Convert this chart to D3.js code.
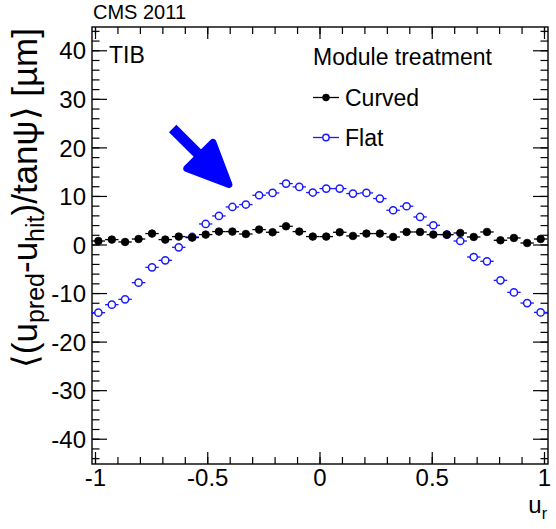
<!DOCTYPE html>
<html><head><meta charset="utf-8">
<script src="https://cdn.jsdelivr.net/npm/d3@7"></script>
<style>
body{margin:0;background:#fff}
svg{display:block}
text{font-family:"Liberation Sans",Arial,Helvetica,sans-serif;fill:#000}
</style>
</head><body>
<svg id="c" width="556" height="529"></svg>
<script>
// ---- data ----
const uR = [-0.985,-0.925,-0.866,-0.806,-0.746,-0.687,-0.627,-0.567,-0.507,-0.448,-0.388,-0.328,
  -0.269,-0.209,-0.149,-0.090,-0.030,0.030,0.090,0.149,0.209,0.269,0.328,0.388,0.448,0.507,
  0.567,0.627,0.687,0.746,0.806,0.866,0.925,0.985];
const curved = [0.72,1.01,0.52,1.13,2.25,1.01,1.63,1.42,2.04,2.66,2.66,2.16,
  3.07,2.52,3.75,2.66,1.63,1.63,2.52,1.76,2.25,2.25,1.55,
  2.58,2.58,2.04,2.04,2.37,1.55,2.58,0.87,1.35,0.31,1.13];
const flat = [-14.04,-12.39,-11.30,-7.86,-4.70,-3.26,-0.58,1.55,4.23,5.88,7.73,8.23,
  10.14,10.62,12.55,11.86,10.70,11.52,11.52,10.49,10.62,9.46,7.05,
  7.88,5.67,3.96,2.04,0.72,-2.58,-3.46,-7.38,-9.86,-12.06,-13.98];
const binHalf = 0.0299;
const xTicks = [-1,-0.5,0,0.5,1];
const yTicks = [-40,-30,-20,-10,0,10,20,30,40];
const seriesNames = ["Curved","Flat"];
const arrowFrom = [-0.654, 23.9];
const arrowTo = [-0.391, 11.8];

// ---- layout ----
const svg = d3.select("#c");
const F = {l:92, r:548, t:27, b:464};
const x = d3.scaleLinear().domain([-1,1]).range([95,544]);
const y = d3.scaleLinear().domain([-45,45]).range([463,26]);
const fmt = d => String(d);
const xMinor = d3.range(-10,11).map(i=>i/10);
const yMinor = d3.range(-44,45,2);

function styleAxis(g){ g.select(".domain").remove(); g.selectAll("line").attr("stroke","#000").attr("stroke-width",1.2); }

// minor ticks
svg.append("g").attr("transform",`translate(0,${F.b})`).call(d3.axisBottom(x).tickValues(xMinor).tickSize(-7).tickFormat("")).call(styleAxis);
svg.append("g").attr("transform",`translate(0,${F.t})`).call(d3.axisTop(x).tickValues(xMinor).tickSize(-7).tickFormat("")).call(styleAxis);
svg.append("g").attr("transform",`translate(${F.l},0)`).call(d3.axisLeft(y).tickValues(yMinor).tickSize(-7.5).tickFormat("")).call(styleAxis);
svg.append("g").attr("transform",`translate(${F.r},0)`).call(d3.axisRight(y).tickValues(yMinor).tickSize(-7.5).tickFormat("")).call(styleAxis);
// major ticks
const gx = svg.append("g").attr("transform",`translate(0,${F.b})`).call(d3.axisBottom(x).tickValues(xTicks).tickSize(-12).tickPadding(5).tickFormat(fmt)).call(styleAxis);
svg.append("g").attr("transform",`translate(0,${F.t})`).call(d3.axisTop(x).tickValues(xTicks).tickSize(-12).tickFormat("")).call(styleAxis);
const gy = svg.append("g").attr("transform",`translate(${F.l},0)`).call(d3.axisLeft(y).tickValues(yTicks).tickSize(-15).tickPadding(6).tickFormat(fmt)).call(styleAxis);
svg.append("g").attr("transform",`translate(${F.r},0)`).call(d3.axisRight(y).tickValues(yTicks).tickSize(-15).tickFormat("")).call(styleAxis);
gx.selectAll("text").attr("font-size",24).attr("font-family","Liberation Sans,Arial,sans-serif").attr("fill","#000");
gy.selectAll("text").attr("font-size",24).attr("font-family","Liberation Sans,Arial,sans-serif").attr("fill","#000").attr("dy","0.36em");

// frame
svg.append("rect").attr("x",F.l).attr("y",F.t).attr("width",F.r-F.l).attr("height",F.b-F.t)
  .attr("fill","none").attr("stroke","#000").attr("stroke-width",1.4);

// data
const blue = "#1a1aff";
function drawSeries(vals, color, filled){
  const g = svg.append("g");
  g.selectAll("line").data(uR).join("line")
    .attr("x1",(d)=>x(d-binHalf)).attr("x2",(d)=>x(d+binHalf))
    .attr("y1",(d,i)=>y(vals[i])).attr("y2",(d,i)=>y(vals[i]))
    .attr("stroke",color).attr("stroke-width",1.3);
  g.selectAll("circle").data(uR).join("circle")
    .attr("cx",d=>x(d)).attr("cy",(d,i)=>y(vals[i])).attr("r",filled?3.8:3.6)
    .attr("fill",filled?color:"#fff").attr("stroke",color).attr("stroke-width",filled?0.8:1.5);
}
drawSeries(flat, blue, false);
drawSeries(curved, "#000", true);

// arrow
(function(){
  const p0=[x(arrowFrom[0]),y(arrowFrom[1])], p1=[x(arrowTo[0]),y(arrowTo[1])];
  const dx=p1[0]-p0[0], dy=p1[1]-p0[1], L=Math.hypot(dx,dy);
  const u=[dx/L,dy/L], n=[-u[1],u[0]];
  const tip=[p1[0]-4*u[0],p1[1]-4*u[1]];
  const base=[p1[0]-45*u[0],p1[1]-45*u[1]];
  const w=18.5;
  const c1=[base[0]+w*n[0],base[1]+w*n[1]], c2=[base[0]-w*n[0],base[1]-w*n[1]];
  svg.append("line").attr("x1",p0[0]).attr("y1",p0[1]).attr("x2",base[0]+8*u[0]).attr("y2",base[1]+8*u[1])
    .attr("stroke","#0000ff").attr("stroke-width",10.5);
  svg.append("path").attr("d",`M${tip}L${c1}L${c2}Z`).attr("fill","#0000ff")
    .attr("stroke","#0000ff").attr("stroke-width",7).attr("stroke-linejoin","round");
})();

// texts
svg.append("text").attr("x",93).attr("y",19).attr("font-size",20).attr("fill","#111").text("CMS 2011");
svg.append("text").attr("x",109).attr("y",63).attr("font-size",23).text("TIB");
svg.append("text").attr("x",313).attr("y",65).attr("font-size",23).text("Module treatment");
// legend entries
const leg = [{name:seriesNames[0], color:"#000", filled:true, yy:97.5},{name:seriesNames[1], color:blue, filled:false, yy:137.5}];
leg.forEach(e=>{
  svg.append("line").attr("x1",313).attr("x2",339).attr("y1",e.yy).attr("y2",e.yy).attr("stroke",e.color).attr("stroke-width",1.3);
  svg.append("circle").attr("cx",326).attr("cy",e.yy).attr("r",e.filled?3.4:3.2)
    .attr("fill",e.filled?e.color:"#fff").attr("stroke",e.color).attr("stroke-width",e.filled?0.8:1.4);
  svg.append("text").attr("x",345).attr("y",e.yy+8).attr("font-size",23).text(e.name);
});

// x title
const xt = svg.append("text").attr("x",547).attr("y",513).attr("font-size",24).attr("text-anchor","end");
xt.append("tspan").text("u");
xt.append("tspan").attr("font-size",16).attr("dy",6).text("r");

// y title
const yt = svg.append("text").attr("transform","translate(37,28) rotate(-90)").attr("font-size",35).attr("text-anchor","end");
yt.append("tspan").text("\u27E8(u");
yt.append("tspan").attr("font-size",25).attr("dy",7).text("pred");
yt.append("tspan").attr("dy",-7).text("-u");
yt.append("tspan").attr("font-size",25).attr("dy",7).text("hit");
yt.append("tspan").attr("dy",-7).text(")/tan\u03C8\u27E9 [\u00B5m]");
</script>
</body></html>
